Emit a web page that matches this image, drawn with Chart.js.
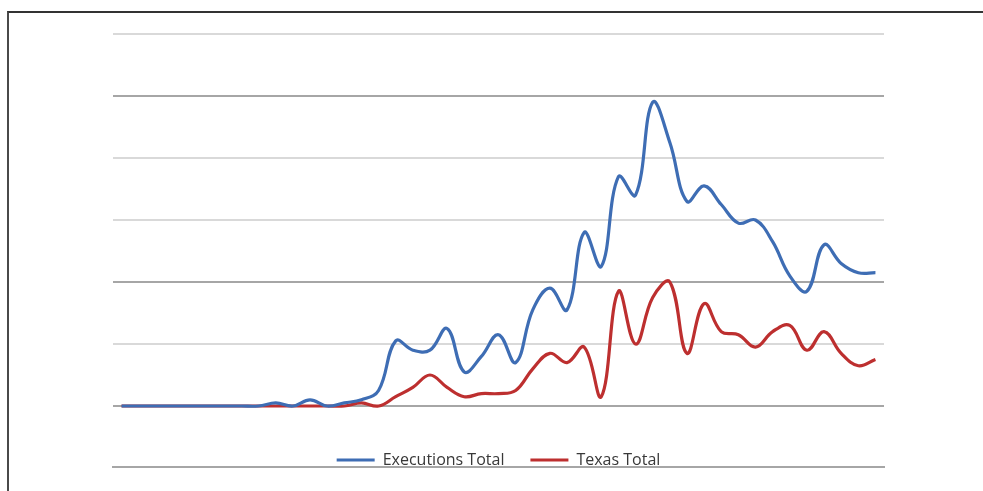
<!DOCTYPE html>
<html>
<head>
<meta charset="utf-8">
<script src="https://cdn.jsdelivr.net/npm/chart.js@4/dist/chart.umd.min.js"></script>
<style>
  html, body { margin: 0; padding: 0; background: #ffffff; }
  #wrap { position: relative; width: 983px; height: 491px; overflow: hidden; }
  #c { position: absolute; left: 0; top: 0; }
  #frame { position: absolute; left: 7px; top: 11px; width: 990px; height: 500px;
           border-top: 2px solid #333333; border-left: 2px solid #4a4a4a; pointer-events: none; }
</style>
</head>
<body>
<div id="wrap">
  <canvas id="c" width="983" height="491"></canvas>
  <div id="frame"></div>
</div>
<script>
// Years (categories)
const years = [
  1968, 1969, 1970, 1971, 1972, 1973, 1974, 1975, 1976, 1977,
  1978, 1979, 1980, 1981, 1982, 1983, 1984, 1985, 1986, 1987,
  1988, 1989, 1990, 1991, 1992, 1993, 1994, 1995, 1996, 1997,
  1998, 1999, 2000, 2001, 2002, 2003, 2004, 2005, 2006, 2007,
  2008, 2009, 2010, 2011, 2012
];
// Executions Total (US)
const executionsTotal = [
  0, 0, 0, 0, 0, 0, 0, 0, 0, 1,
  0, 2, 0, 1, 2, 5, 21, 18, 18, 25,
  11, 16, 23, 14, 31, 38, 31, 56, 45, 74,
  68, 98, 85, 66, 71, 65, 59, 60, 53, 42,
  37, 52, 46, 43, 43
];
// Texas Total
const texasTotal = [
  0, 0, 0, 0, 0, 0, 0, 0, 0, 0,
  0, 0, 0, 0, 1, 0, 3, 6, 10, 6,
  3, 4, 4, 5, 12, 17, 14, 19, 3, 37,
  20, 35, 40, 17, 33, 24, 23, 19, 24, 26,
  18, 24, 17, 13, 15
];
// Y gridline values (labels hidden in the original)
const yTicks = [0, 20, 40, 60, 80, 100, 120];
const darkGridValues = [0, 40, 100];

const Y_MIN = -6.45;
const Y_MAX = 120;

const blue = '#3e6db4';
const red = '#bd2f2f';

new Chart(document.getElementById('c'), {
  type: 'line',
  data: {
    labels: years,
    datasets: [
      { label: 'Executions Total', data: executionsTotal, borderColor: blue, backgroundColor: blue,
        borderWidth: 3.2, pointRadius: 0, tension: 0.4, fill: false, clip: false },
      { label: 'Texas Total', data: texasTotal, borderColor: red, backgroundColor: red,
        borderWidth: 3.2, pointRadius: 0, tension: 0.4, fill: false, clip: false }
    ]
  },
  options: {
    responsive: false,
    animation: false,
    devicePixelRatio: 1,
    layout: { padding: { left: 113, right: 99, top: 34, bottom: 24 } },
    plugins: {
      tooltip: { enabled: false },
      legend: {
        position: 'bottom',
        weight: -1,
        maxHeight: 41,
        labels: {
          font: { family: '"Open Sans", "Liberation Sans", sans-serif', size: 16 },
          color: '#383838',
          boxWidth: 38,
          boxHeight: 3,
          padding: 26,
          generateLabels: (chart) => Chart.defaults.plugins.legend.labels.generateLabels(chart).map(l => {
            l.fillStyle = l.strokeStyle;
            l.lineWidth = 0;
            return l;
          })
        }
      }
    },
    scales: {
      x: {
        type: 'category',
        offset: true,
        ticks: { display: false },
        grid: { display: true, drawOnChartArea: false, drawTicks: false, color: 'rgba(0,0,0,0)' },
        border: { display: true, color: '#a6a6a6', width: 2 }
      },
      y: {
        min: Y_MIN,
        max: Y_MAX,
        afterBuildTicks: (scale) => { scale.ticks = yTicks.map(v => ({ value: v })); },
        ticks: { display: false },
        grid: {
          drawTicks: false,
          lineWidth: 2,
          color: (ctx) => (ctx.tick && darkGridValues.includes(ctx.tick.value)) ? '#a6a6a6' : '#d9d9d9'
        },
        border: { display: false }
      }
    }
  }
});
</script>
</body>
</html>
